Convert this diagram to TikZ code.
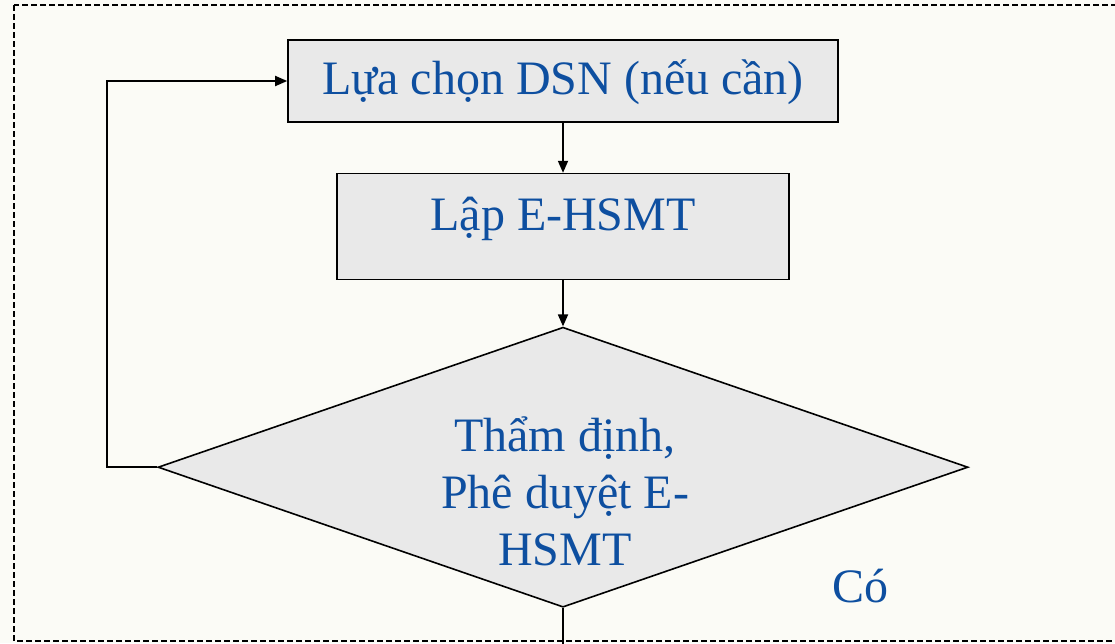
\documentclass[tikz,border=0pt]{standalone}
\usepackage{fontspec}
\setmainfont{Liberation Serif}
\usetikzlibrary{shapes.geometric, arrows.meta, positioning}
\definecolor{paper}{HTML}{FBFBF6}
\definecolor{boxgray}{HTML}{E9E9E9}
\definecolor{textblue}{HTML}{0E4FA0}

\begin{document}
\begin{tikzpicture}[x=1pt, y=-1pt, node distance=50pt, line width=1.8pt, every node/.style={font=\fontsize{48}{57}\selectfont, text=textblue}]
    % Styles for boxes and arrows
    \tikzstyle{box} = [rectangle, draw=black, fill=boxgray, line width=1.6pt, inner sep=0pt]
    \tikzstyle{decision} = [diamond, draw=black, fill=boxgray, line width=1.6pt, inner sep=0pt, minimum width=810pt, minimum height=280pt, aspect=2.9]
    \tikzstyle{arrow} = [line width=1.8pt, -{Triangle[length=12pt, width=10pt]}]
    \tikzstyle{frame} = [draw=black, line width=1.8pt, dash pattern=on 6pt off 3pt]

    % Background and dashed frame
    \useasboundingbox (0,0) rectangle (1115,643);
    \fill[paper] (0,0) rectangle (1115,643);
    \clip (0,0) rectangle (1115,643);
    \draw[frame] (14,5) rectangle (1140,641);

    % Nodes
    \node[box, minimum width=550pt, minimum height=82pt, text height=36pt, text depth=10pt] (choose) at (563,81) {Lựa chọn DSN (nếu cần)};
    \node[box, minimum width=452pt, minimum height=106pt, text height=34pt, text depth=26pt, below=of choose] (prepare) {Lập E-HSMT};
    \node[decision, below=46pt of prepare] (check) {};
    \node[align=center] (checktext) at (565,491) {Thẩm định,\\Phê duyệt E-\\HSMT};
    \node (yes) at (860,586) {Có};

    % Arrows
    \coordinate (back) at ([xshift=-50pt]check.west);
    \coordinate (exit) at ([yshift=-60pt]check.south);
    \draw[arrow] (choose) -- (prepare);
    \draw[arrow] (prepare) -- (check);
    \draw[arrow] (check.west) -- (back) |- (choose.west);
    \draw (check.south) -- (exit);
\end{tikzpicture}
\end{document}
